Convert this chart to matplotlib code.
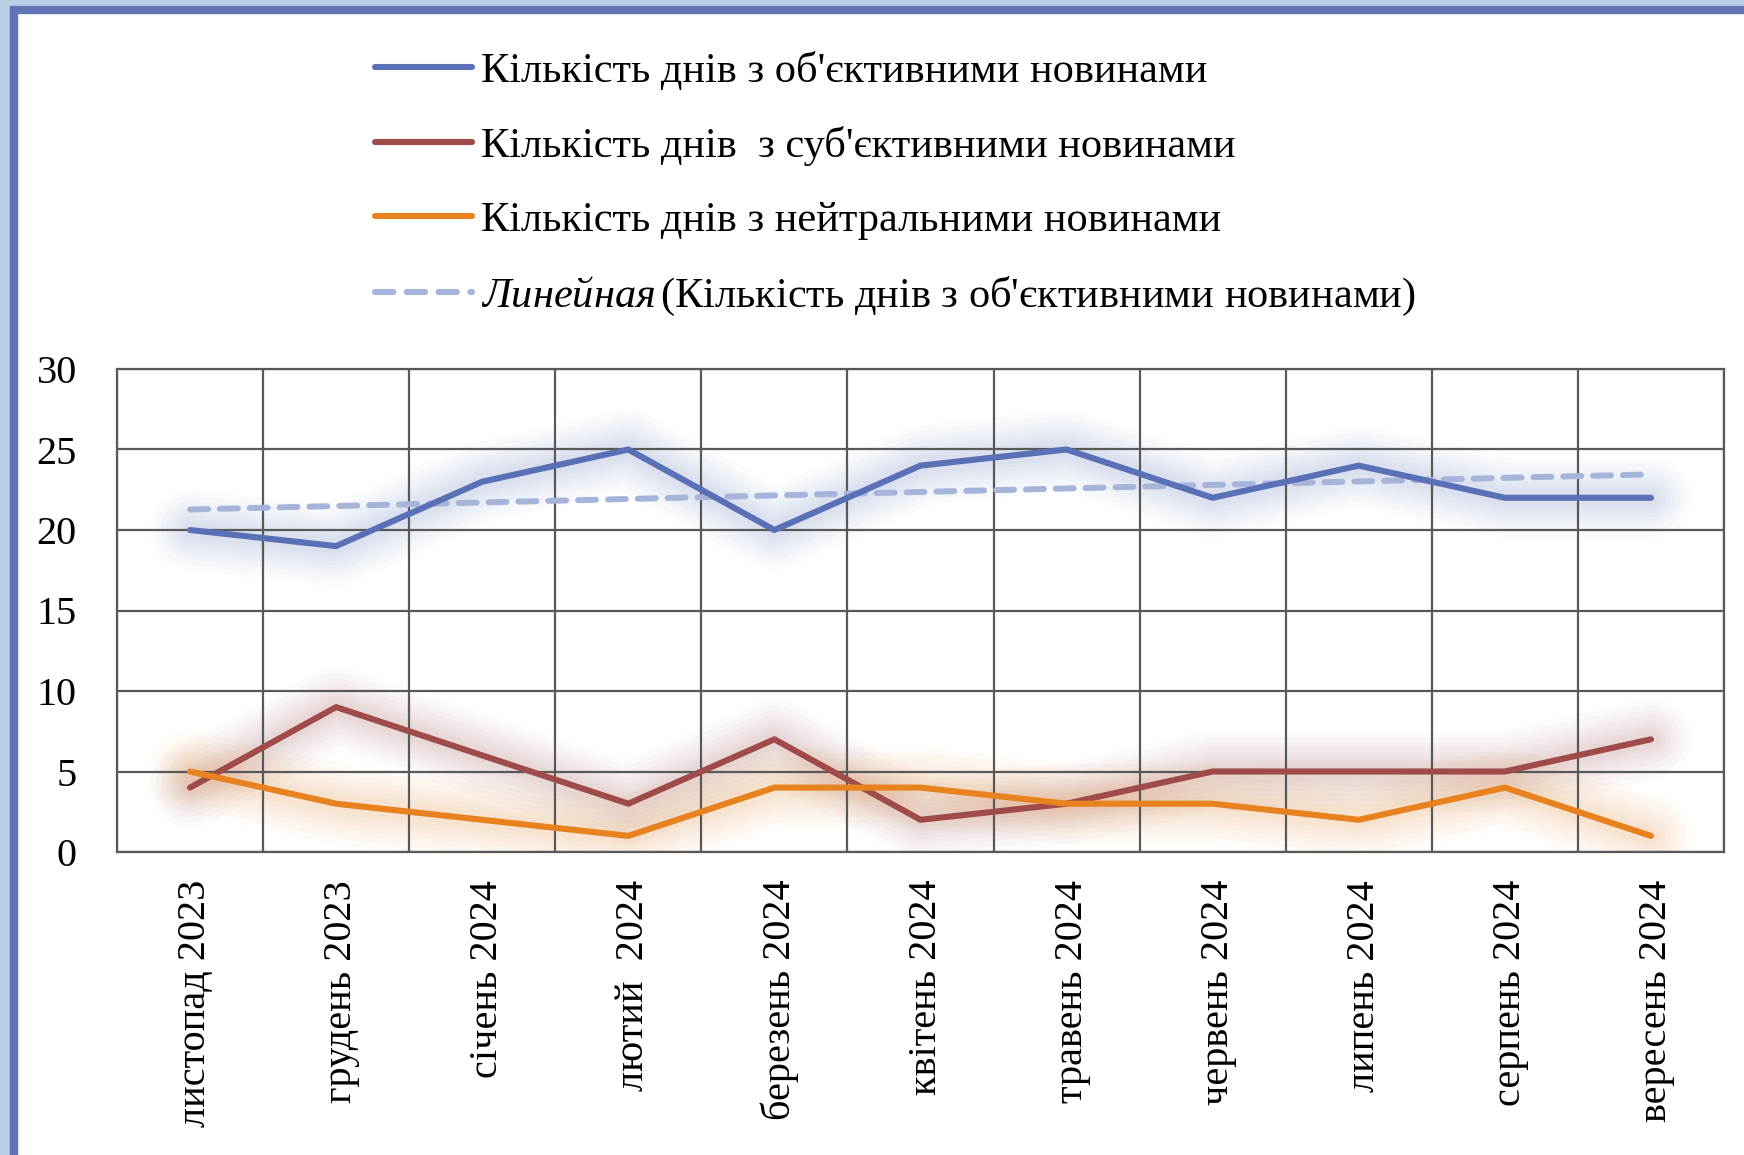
import matplotlib
matplotlib.use("Agg")
import matplotlib.pyplot as plt
from matplotlib.lines import Line2D
from matplotlib.patches import Rectangle
import matplotlib.transforms as mtransforms
import numpy as np

plt.rcParams['font.family'] = ['Liberation Serif', 'DejaVu Serif']
plt.rcParams['mathtext.fontset'] = 'custom'
plt.rcParams['mathtext.rm'] = 'Liberation Serif'
plt.rcParams['mathtext.it'] = 'Liberation Serif:italic'

# Data
months = ["листопад 2023", "грудень 2023", "січень 2024", "лютий  2024",
          "березень 2024", "квітень 2024", "травень 2024", "червень 2024",
          "липень 2024", "серпень 2024", "вересень 2024"]
objective = [20, 19, 23, 25, 20, 24, 25, 22, 24, 22, 22]
subjective = [4, 9, 6, 3, 7, 2, 3, 5, 5, 5, 7]
neutral = [5, 3, 2, 1, 4, 4, 3, 3, 2, 4, 1]

labels = ["Кількість днів з об'єктивними новинами",
          "Кількість днів  з суб'єктивними новинами",
          "Кількість днів з нейтральними новинами",
          r"$\mathit{Линейная}\,$(Кількість днів з об'єктивними новинами)"]

c_blue = '#5A70B6'
c_red = '#9E4B4A'
c_orange = '#E8821E'
c_trend = '#A6B4DA'
c_grid = '#595959'

x = np.arange(len(months))
slope, intercept = np.polyfit(x, objective, 1)
trend = slope * x + intercept

W, H = 1744, 1155
fig = plt.figure(figsize=(W / 100, H / 100), dpi=100)
fig.patch.set_facecolor('#B9CDE5')

# outer frame
fig.patches.append(Rectangle((14 / W, -0.1), 1.2, 1 - 10 / H + 0.1,
                             transform=fig.transFigure, facecolor='white',
                             edgecolor='#6074B6', linewidth=6, zorder=-5))

ax = fig.add_axes([117 / W, 1 - 852 / H, (1724 - 117) / W, (852 - 369) / H])
ax.set_facecolor('none')

# soft glow around the lines
for series, col in [(objective, c_blue), (subjective, c_red), (neutral, c_orange)]:
    for lw in [58, 50, 42, 35, 28, 22, 16, 11]:
        ax.plot(x, series, color=col, lw=lw, alpha=0.028,
                solid_capstyle='round', solid_joinstyle='round', zorder=1)

ax.plot(x, trend, color=c_trend, lw=4.3, ls=(0, (3.0, 2.0)),
        dash_capstyle='round', zorder=2.5)
ax.plot(x, objective, color=c_blue, lw=4.4, solid_capstyle='round', zorder=3)
ax.plot(x, subjective, color=c_red, lw=4.4, solid_capstyle='round', zorder=3)
ax.plot(x, neutral, color=c_orange, lw=4.4, solid_capstyle='round', zorder=3)

ax.set_xlim(-0.5, len(months) - 0.5)
ax.set_ylim(0, 30)
ax.set_yticks(range(0, 31, 5))
ax.set_xticks(x)
ax.set_xticklabels(months, rotation=90, va='top', ha='center')
ax.set_xticks(np.arange(-0.5, len(months), 1), minor=True)
ax.grid(True, which='minor', axis='x', color=c_grid, lw=1.6)
ax.grid(True, which='major', axis='y', color=c_grid, lw=1.6)
ax.set_axisbelow('line')
ax.tick_params(axis='both', which='both', length=0, labelsize=29, colors='black')
ax.tick_params(axis='y', pad=29)
ax.tick_params(axis='x', pad=20)
for s in ax.spines.values():
    s.set_color(c_grid)
    s.set_linewidth(1.6)

shift = mtransforms.ScaledTranslation(4 / 72, 0, fig.dpi_scale_trans)
for lbl in ax.get_xticklabels():
    lbl.set_transform(lbl.get_transform() + shift)

handles = [Line2D([], [], color=c_blue, lw=4.4, solid_capstyle='round'),
           Line2D([], [], color=c_red, lw=4.4, solid_capstyle='round'),
           Line2D([], [], color=c_orange, lw=4.4, solid_capstyle='round'),
           Line2D([], [], color=c_trend, lw=4.4, ls=(0, (3, 2.2)), dash_capstyle='round')]
fig.legend(handles, labels, loc='upper left', bbox_to_anchor=(375 / W, 1 - 52 / H),
           frameon=False, fontsize=30.5, borderpad=0, borderaxespad=0,
           handlelength=2.3, handletextpad=0.2, labelspacing=0.83)

fig.savefig('out.png', dpi=100, facecolor=fig.get_facecolor())
